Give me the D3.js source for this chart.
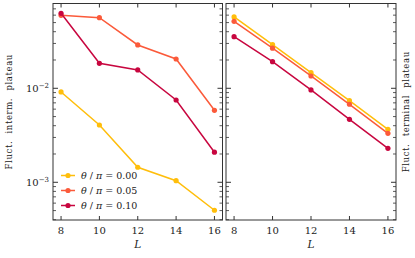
<!DOCTYPE html>
<html><head><meta charset="utf-8">
<script src="https://cdn.jsdelivr.net/npm/d3@7"></script>
<style>body{margin:0;background:#fff}svg{display:block}text{font-family:"DejaVu Serif","Liberation Serif",serif;fill:#222}</style>
</head><body><svg id="c" width="415" height="258"></svg>
<script>
const Ls = [8, 10, 12, 14, 16];
const seriesLabels = ["0.00", "0.05", "0.10"];
const colors = ["#ffbe0b", "#fb5a3a", "#c8063f"];
const intermA = [0.00914, 0.00407, 0.001445, 0.00104, 0.000504];
const intermB = [0.0598, 0.0564, 0.0289, 0.0205, 0.00583];
const intermC = [0.0628, 0.01845, 0.01567, 0.00751, 0.00209];
const termA = [0.0574, 0.0291, 0.01466, 0.00738, 0.00366];
const termB = [0.0516, 0.0267, 0.01352, 0.00676, 0.00332];
const termC = [0.0354, 0.0192, 0.0096, 0.00468, 0.0023];
const xTicks = [8, 10, 12, 14, 16];
const yMajor = [1e-3, 1e-2];
const yMajorLabels = ["−3", "−2"];

const svg = d3.select("#c");
const yTop = 3.5, yBot = 220;
const y = d3.scaleLog().domain([3.97e-4, 0.0798]).range([yBot, yTop]);
const panels = [
  {x0: 53, x1: 222.5, data: [intermA, intermB, intermC], label: "Fluct. interm. plateau", labelX: 9, leftLabels: true},
  {x0: 226, x1: 396, data: [termA, termB, termC], label: "Fluct. terminal plateau", labelX: 406, leftLabels: false}
];
const minor = [];
for (let e = -4; e <= -1; e++) for (let m = 2; m <= 9; m++) { const v = m * Math.pow(10, e); if (v > y.domain()[0] && v < y.domain()[1]) minor.push(v); }
const ink = "#333";

panels.forEach((p, pi) => {
  const x = d3.scaleLinear().domain([7.58, 16.42]).range([p.x0, p.x1]);
  const g = svg.append("g");
  xTicks.forEach(t => {
    g.append("line").attr("x1", x(t)).attr("x2", x(t)).attr("y1", yBot).attr("y2", yBot - 4).attr("stroke", ink).attr("stroke-width", 1);
    g.append("line").attr("x1", x(t)).attr("x2", x(t)).attr("y1", yTop).attr("y2", yTop + 4).attr("stroke", ink).attr("stroke-width", 1);
    g.append("text").attr("x", x(t)).attr("y", yBot + 13.5).attr("text-anchor", "middle").style("font-size", "10px").text(t);
  });
  [p.x0, p.x1].forEach((xx, side) => {
    const dir = side === 0 ? 1 : -1;
    yMajor.forEach(v => g.append("line").attr("x1", xx).attr("x2", xx + dir * 5).attr("y1", y(v)).attr("y2", y(v)).attr("stroke", ink).attr("stroke-width", 1));
    minor.forEach(v => g.append("line").attr("x1", xx).attr("x2", xx + dir * 3).attr("y1", y(v)).attr("y2", y(v)).attr("stroke", ink).attr("stroke-width", 0.8));
  });
  if (p.leftLabels) {
    yMajor.forEach((v, i) => {
      const t = g.append("text").attr("x", p.x0 - 4).attr("y", y(v) + 3.5).attr("text-anchor", "end").style("font-size", "10px");
      t.append("tspan").text("10");
      t.append("tspan").attr("dy", -4).style("font-size", "7px").text(yMajorLabels[i]);
    });
  }
  g.append("rect").attr("x", p.x0).attr("y", yTop).attr("width", p.x1 - p.x0).attr("height", yBot - yTop).attr("fill", "none").attr("stroke", ink).attr("stroke-width", 1);
  const line = d3.line().x((d, i) => x(Ls[i])).y(d => y(d));
  p.data.forEach((s, si) => {
    g.append("path").attr("d", line(s)).attr("fill", "none").attr("stroke", colors[si]).attr("stroke-width", 1.5);
    g.selectAll(null).data(s).enter().append("circle").attr("cx", (d, i) => x(Ls[i])).attr("cy", d => y(d)).attr("r", 2.6).attr("fill", colors[si]);
  });
  g.append("text").attr("x", (p.x0 + p.x1) / 2).attr("y", 248).attr("text-anchor", "middle").style("font-size", "10.5px").style("font-style", "italic").text("L");
  g.append("text").attr("transform", `translate(${p.labelX},${(yTop + yBot) / 2}) rotate(-90)`).attr("text-anchor", "middle").attr("dy", "0.35em").style("font-size", "8.5px").style("letter-spacing", "0.6px").style("word-spacing", "4px").text(p.label);
});

const lg = svg.append("g");
seriesLabels.forEach((lab, i) => {
  const yy = 175.5 + i * 15;
  lg.append("line").attr("x1", 61).attr("x2", 75).attr("y1", yy).attr("y2", yy).attr("stroke", colors[i]).attr("stroke-width", 1.5);
  lg.append("circle").attr("cx", 68).attr("cy", yy).attr("r", 2.6).attr("fill", colors[i]);
  const t = lg.append("text").attr("x", 81).attr("y", yy + 3.3).style("font-size", "9.5px");
  t.append("tspan").style("font-style", "italic").text("θ");
  t.append("tspan").text(" / ");
  t.append("tspan").style("font-style", "italic").text("π");
  t.append("tspan").text(" = " + lab);
});
</script></body></html>
